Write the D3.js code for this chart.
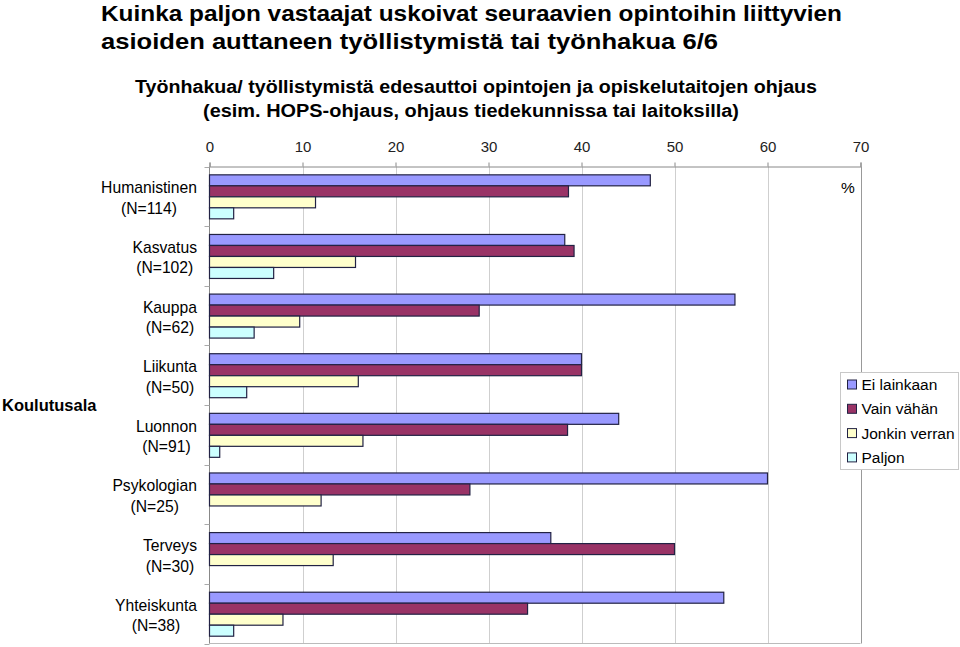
<!DOCTYPE html>
<html>
<head>
<meta charset="utf-8">
<script src="https://cdn.jsdelivr.net/npm/d3@7"></script>
<style>
  body { margin: 0; background: #fff; }
  svg { display: block; font-family: "Liberation Sans", Arial, sans-serif; }
</style>
</head>
<body>
<svg id="chart" width="960" height="647"></svg>
<script>
const titleLines = ["Kuinka paljon vastaajat uskoivat seuraavien opintoihin liittyvien",
                    "asioiden auttaneen työllistymistä tai työnhakua 6/6"];
const subtitleLines = ["Työnhakua/ työllistymistä edesauttoi opintojen ja opiskelutaitojen ohjaus",
                       "(esim. HOPS-ohjaus, ohjaus tiedekunnissa tai laitoksilla)"];
const categories = ["Humanistinen", "Kasvatus", "Kauppa", "Liikunta", "Luonnon", "Psykologian", "Terveys", "Yhteiskunta"];
const nLabels = ["(N=114)", "(N=102)", "(N=62)", "(N=50)", "(N=91)", "(N=25)", "(N=30)", "(N=38)"];
const seriesNames = ["Ei lainkaan", "Vain vähän", "Jonkin verran", "Paljon"];
const eiLainkaan   = [47.4, 38.2, 56.5, 40.0, 44.0, 60.0, 36.7, 55.3];
const vainVahan    = [38.6, 39.2, 29.0, 40.0, 38.5, 28.0, 50.0, 34.2];
const jonkinVerran = [11.4, 15.7,  9.7, 16.0, 16.5, 12.0, 13.3,  7.9];
const paljon       = [ 2.6,  6.9,  4.8,  4.0,  1.1,  0.0,  0.0,  2.6];
const seriesColors = ["#9999FF", "#993366", "#FFFFCC", "#CCFFFF"];
const xTicks = [0, 10, 20, 30, 40, 50, 60, 70];
const axisUnit = "%";
const yAxisTitle = "Koulutusala";

const seriesValues = [eiLainkaan, vainVahan, jonkinVerran, paljon];

const svg = d3.select("#chart");

// Titles (the original text is horizontally wider than Liberation Sans; stretch to match)
const titleWidths = [741, 617];
svg.append("g").selectAll("text").data(titleLines).join("text")
  .attr("x", 101).attr("y", (d, i) => 21 + i * 28)
  .attr("font-size", 21.5).attr("font-weight", "bold").attr("fill", "#000")
  .attr("textLength", (d, i) => titleWidths[i]).attr("lengthAdjust", "spacingAndGlyphs")
  .text(d => d);
const subWidths = [682, 536];
const subCenters = [476, 471];
svg.append("g").selectAll("text").data(subtitleLines).join("text")
  .attr("x", (d, i) => subCenters[i] - subWidths[i] / 2).attr("y", (d, i) => 93 + i * 24)
  .attr("font-size", 17.5).attr("font-weight", "bold").attr("fill", "#000")
  .attr("textLength", (d, i) => subWidths[i]).attr("lengthAdjust", "spacingAndGlyphs")
  .text(d => d);

const pLeft = 209.5, pRight = 860.5, pTop = 166.5, pBottom = 643.5;
const x = d3.scaleLinear().domain([0, 70]).range([pLeft, pRight]);
const y = d3.scaleBand().domain(categories).range([pTop, pBottom])
  .paddingInner(0.263).paddingOuter(0.1315);
const yInner = d3.scaleBand().domain(seriesNames).range([0, y.bandwidth()]);

// Gridlines
svg.append("g").selectAll("line").data(xTicks.slice(1, -1)).join("line")
  .attr("x1", d => Math.round(x(d)) + 0.5).attr("x2", d => Math.round(x(d)) + 0.5)
  .attr("y1", pTop).attr("y2", pBottom)
  .attr("stroke", "#cfcfcf").attr("stroke-width", 1);

// Plot frame lines
svg.append("line").attr("x1", Math.round(pRight) + 0.5).attr("x2", Math.round(pRight) + 0.5)
  .attr("y1", pTop).attr("y2", pBottom).attr("stroke", "#999");
svg.append("line").attr("x1", pLeft).attr("x2", pRight).attr("y1", pBottom).attr("y2", pBottom).attr("stroke", "#bbb");

// Top axis
const xAxis = d3.axisTop(x).tickValues(xTicks).tickSize(4).tickPadding(11).tickFormat(d3.format("d"));
const gx = svg.append("g").attr("transform", `translate(0,${pTop})`).call(xAxis);
gx.select(".domain").attr("stroke", "#888");
gx.selectAll(".tick line").attr("stroke", "#888");
gx.selectAll(".tick text").attr("font-size", 15).attr("fill", "#222")
  .attr("font-family", "Liberation Sans, Arial, sans-serif");

// Left axis
svg.append("line").attr("x1", pLeft).attr("x2", pLeft).attr("y1", pTop).attr("y2", pBottom).attr("stroke", "#888");
const step = y.step();
const boundaries = d3.range(categories.length + 1).map(i => pTop + i * step);
svg.append("g").selectAll("line").data(boundaries).join("line")
  .attr("x1", pLeft - 5).attr("x2", pLeft)
  .attr("y1", d => Math.round(d) + 0.5).attr("y2", d => Math.round(d) + 0.5)
  .attr("stroke", "#aaa");

// Bars
const groups = svg.append("g").selectAll("g").data(categories).join("g")
  .attr("transform", c => `translate(0,${y(c)})`);
groups.selectAll("rect")
  .data((c, ci) => seriesNames.map((s, si) => ({s, si, v: seriesValues[si][ci]})).filter(d => d.v > 0))
  .join("rect")
  .attr("x", x(0))
  .attr("y", d => Math.round(yInner(d.s)) + 0.5)
  .attr("width", d => x(d.v) - x(0))
  .attr("height", yInner.bandwidth())
  .attr("fill", d => seriesColors[d.si])
  .attr("stroke", "#222244").attr("stroke-width", 1.2);

// Category labels
const labelG = svg.append("g");
categories.forEach((c, i) => {
  const cy = y(c) + y.bandwidth() / 2;
  const g = labelG.append("g");
  const t1 = g.append("text").attr("y", cy - 3).attr("text-anchor", "middle")
    .attr("font-size", 15.7).attr("fill", "#000").text(c);
  const t2 = g.append("text").attr("y", cy + 17.5).attr("text-anchor", "middle")
    .attr("font-size", 15.7).attr("fill", "#000").text(nLabels[i]);
  const w = Math.max(t1.node().getComputedTextLength(), t2.node().getComputedTextLength());
  const cx = 197 - w / 2;
  t1.attr("x", cx); t2.attr("x", cx);
});

// Y axis title
svg.append("text").attr("x", 2).attr("y", 411).attr("font-size", 16.5).attr("font-weight", "bold")
  .attr("fill", "#000").text(yAxisTitle);

// Unit
svg.append("text").attr("x", 848).attr("y", 193).attr("text-anchor", "middle")
  .attr("font-size", 15.5).attr("fill", "#000").text(axisUnit);

// Legend
const lg = svg.append("g").attr("transform", "translate(840.5,372.5)");
lg.append("rect").attr("width", 118).attr("height", 97).attr("fill", "#fff").attr("stroke", "#c8c8c8");
const items = lg.selectAll("g").data(seriesNames).join("g")
  .attr("transform", (d, i) => `translate(0,${12 + i * 24.3})`);
items.append("rect").attr("x", 7).attr("y", -4.5).attr("width", 9).attr("height", 9)
  .attr("fill", (d, i) => seriesColors[i]).attr("stroke", "#222244");
items.append("text").attr("x", 21).attr("y", 5.5).attr("font-size", 15.5).attr("fill", "#000").text(d => d);
</script>
</body>
</html>
